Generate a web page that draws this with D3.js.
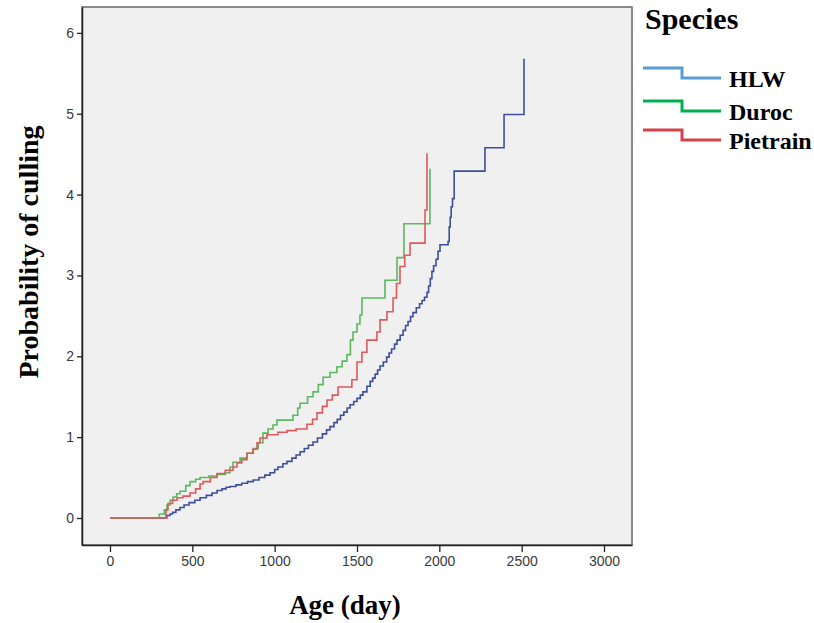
<!DOCTYPE html>
<html>
<head>
<meta charset="utf-8">
<script src="https://cdn.jsdelivr.net/npm/d3@7"></script>
<style>
  body { margin: 0; background: #fff; }
  .tick text { font-family: "Liberation Sans", Arial, sans-serif; font-size: 14px; fill: #3a3a3a; }
  .title { font-family: "Liberation Serif", "Times New Roman", serif; font-weight: bold; fill: #000; }
</style>
</head>
<body>
<svg id="chart" width="814" height="623"></svg>
<script>
// ages (days) and cumulative culling values
const species = ["HLW", "Duroc", "Pietrain"];
const plotColors = ["#3d4f9c", "#5bb85f", "#e0585c"];
const legendColors = ["#5b9bd5", "#00b050", "#d6404b"];

const hlw = [
  [0, 0], [330, 0], [345, 0.03], [365, 0.05], [380, 0.07], [400, 0.1], [425, 0.13],
  [450, 0.16], [480, 0.19], [515, 0.22], [547, 0.25], [585, 0.28], [620, 0.31],
  [650, 0.34], [680, 0.36], [705, 0.38], [729, 0.39], [765, 0.41], [800, 0.43],
  [835, 0.45], [870, 0.47], [905, 0.5], [940, 0.53], [972, 0.56], [1000, 0.6],
  [1020, 0.63], [1050, 0.67], [1075, 0.7], [1105, 0.74], [1130, 0.78], [1155, 0.82],
  [1180, 0.86], [1205, 0.9], [1233, 0.94], [1260, 0.99], [1290, 1.04], [1315, 1.09],
  [1336, 1.13], [1360, 1.18], [1380, 1.22], [1400, 1.27], [1420, 1.31], [1440, 1.36],
  [1458, 1.4], [1480, 1.44], [1500, 1.48], [1520, 1.52], [1536, 1.56], [1560, 1.63],
  [1580, 1.69], [1595, 1.73], [1610, 1.78], [1625, 1.83], [1640, 1.88], [1660, 1.93],
  [1680, 1.99], [1695, 2.04], [1710, 2.09], [1728, 2.15], [1743, 2.2], [1762, 2.26],
  [1780, 2.32], [1795, 2.38], [1810, 2.43], [1825, 2.49], [1840, 2.54], [1860, 2.6],
  [1880, 2.65], [1895, 2.69], [1910, 2.73], [1925, 2.79], [1935, 2.87], [1945, 2.96],
  [1955, 3.05], [1965, 3.12], [1980, 3.2], [1992, 3.3], [2004, 3.38], [2053, 3.42],
  [2060, 3.6], [2066, 3.72], [2072, 3.85], [2080, 3.95], [2090, 4.29], [2277, 4.58],
  [2393, 4.99], [2514, 5.68]
];
const duroc = [
  [0, 0], [285, 0], [300, 0.05], [330, 0.1], [346, 0.16], [365, 0.22], [383, 0.26],
  [405, 0.3], [425, 0.33], [460, 0.4], [486, 0.45], [520, 0.48], [547, 0.5], [600, 0.52],
  [650, 0.54], [700, 0.56], [729, 0.63], [747, 0.69], [790, 0.74], [832, 0.8], [870, 0.86],
  [900, 0.93], [929, 1.05], [960, 1.1], [990, 1.15], [1014, 1.21], [1111, 1.27],
  [1140, 1.36], [1154, 1.42], [1200, 1.5], [1233, 1.56], [1265, 1.65], [1294, 1.74],
  [1336, 1.8], [1378, 1.87], [1410, 1.94], [1439, 2.02], [1460, 2.2], [1476, 2.3],
  [1500, 2.4], [1518, 2.51], [1530, 2.72], [1670, 2.94], [1743, 3.22], [1785, 3.64],
  [1943, 4.32]
];
const pietrain = [
  [0, 0], [316, 0], [340, 0.1], [352, 0.18], [380, 0.22], [407, 0.25], [443, 0.27],
  [486, 0.31], [520, 0.36], [547, 0.42], [565, 0.45], [610, 0.5], [650, 0.55], [700, 0.59],
  [747, 0.63], [771, 0.68], [800, 0.72], [832, 0.8], [868, 0.85], [893, 0.93], [911, 0.99],
  [953, 1.03], [1020, 1.06], [1075, 1.08], [1130, 1.1], [1196, 1.16], [1230, 1.22],
  [1257, 1.3], [1290, 1.38], [1318, 1.46], [1350, 1.52], [1385, 1.62], [1469, 1.71],
  [1500, 1.93], [1530, 2.05], [1560, 2.2], [1621, 2.3], [1640, 2.45], [1682, 2.55],
  [1719, 2.72], [1740, 2.9], [1761, 3.11], [1790, 3.25], [1822, 3.4], [1913, 3.81],
  [1925, 4.51]
];
const xTicks = [0, 500, 1000, 1500, 2000, 2500, 3000];
const yTicks = [0, 1, 2, 3, 4, 5, 6];

const series = [hlw, duroc, pietrain];

const svg = d3.select("#chart");
const frame = { left: 82, right: 632, top: 7, bottom: 545 };

const x = d3.scaleLinear().domain([-170, 3170]).range([frame.left, frame.right]);
const y = d3.scaleLinear().domain([-0.334, 6.32]).range([frame.bottom, frame.top]);

// plot background and frame
svg.append("rect")
    .attr("x", frame.left).attr("y", frame.top)
    .attr("width", frame.right - frame.left)
    .attr("height", frame.bottom - frame.top)
    .attr("fill", "#f0f0f0")
    .attr("stroke", "#666")
    .attr("stroke-width", 1.5);

// axes
const yAxis = d3.axisLeft(y).tickValues(yTicks).tickFormat(d3.format("d"))
    .tickSize(5).tickSizeOuter(0).tickPadding(3);
svg.append("g")
    .attr("transform", `translate(${frame.left},0)`)
    .call(yAxis)
    .call(g => g.select(".domain").attr("stroke", "#222").attr("stroke-width", 1.5))
    .call(g => g.selectAll(".tick line").attr("stroke", "#222").attr("stroke-width", 1.3));

const xAxis = d3.axisBottom(x).tickValues(xTicks).tickFormat(d3.format("d"))
    .tickSize(7).tickSizeOuter(0).tickPadding(4);
svg.append("g")
    .attr("transform", `translate(0,${frame.bottom})`)
    .call(xAxis)
    .call(g => g.select(".domain").attr("stroke", "#222").attr("stroke-width", 1.5))
    .call(g => g.selectAll(".tick line").attr("stroke", "#222").attr("stroke-width", 1.3));

// step lines
const line = d3.line()
    .x(d => x(d[0]))
    .y(d => y(d[1]))
    .curve(d3.curveStepAfter);

series.forEach((s, i) => {
    svg.append("path")
        .datum(s)
        .attr("fill", "none")
        .attr("stroke", plotColors[i])
        .attr("stroke-width", 1.6)
        .attr("d", line);
});

// axis titles
svg.append("text")
    .attr("class", "title")
    .attr("x", 345).attr("y", 614)
    .attr("text-anchor", "middle")
    .attr("font-size", 27)
    .text("Age (day)");

svg.append("text")
    .attr("class", "title")
    .attr("transform", "translate(38,252) rotate(-90)")
    .attr("text-anchor", "middle")
    .attr("font-size", 28)
    .text("Probability of culling");

// legend
svg.append("text")
    .attr("class", "title")
    .attr("x", 645).attr("y", 29)
    .attr("font-size", 30)
    .text("Species");

const legendY = [68, 101, 130];
species.forEach((name, i) => {
    const y0 = legendY[i];
    svg.append("path")
        .attr("fill", "none")
        .attr("stroke", legendColors[i])
        .attr("stroke-width", 3)
        .attr("d", `M643,${y0}H682V${y0 + 10}H721`);
    svg.append("text")
        .attr("class", "title")
        .attr("x", 729).attr("y", y0 + 19)
        .attr("font-size", 24)
        .text(name);
});
</script>
</body>
</html>
